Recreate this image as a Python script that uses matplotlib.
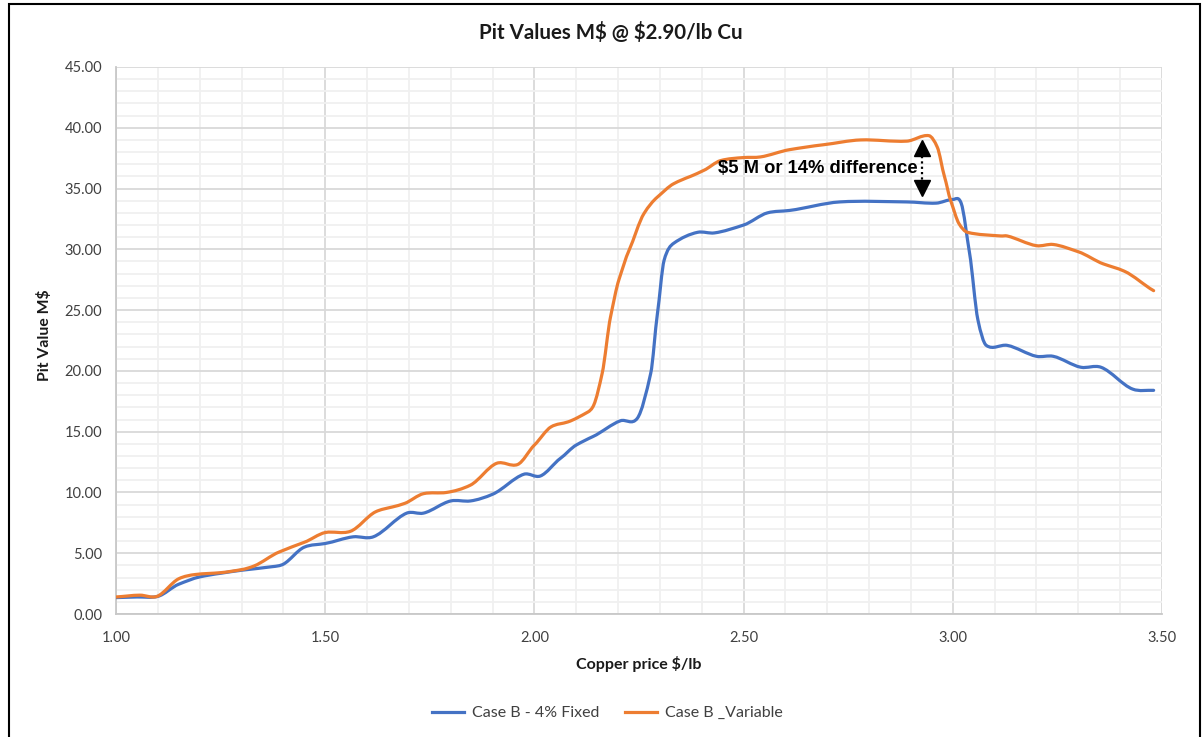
import matplotlib
matplotlib.use("Agg")
import matplotlib.pyplot as plt
from matplotlib.patches import Rectangle, PathPatch
from matplotlib.path import Path
from matplotlib.lines import Line2D
from matplotlib.ticker import MultipleLocator, FormatStrFormatter

# ---- data ----
fixed_x = [1.00, 1.05, 1.10, 1.15, 1.20, 1.25, 1.30, 1.375, 1.40, 1.45, 1.50,
           1.567, 1.615, 1.695, 1.735, 1.80, 1.847, 1.90, 1.975, 2.014, 2.062,
           2.10, 2.14, 2.206, 2.246, 2.278, 2.294, 2.31, 2.333, 2.39, 2.43,
           2.50, 2.557, 2.61, 2.73, 2.89, 2.96, 3.00, 3.02, 3.04, 3.06, 3.08,
           3.13, 3.20, 3.24, 3.306, 3.354, 3.43, 3.48]
fixed_y = [1.35, 1.4, 1.45, 2.45, 3.05, 3.35, 3.6, 3.9, 4.1, 5.5, 5.8,
           6.35, 6.35, 8.3, 8.3, 9.3, 9.3, 9.85, 11.5, 11.35, 12.8,
           13.9, 14.6, 15.9, 16.1, 19.8, 24.7, 29.1, 30.5, 31.4, 31.35,
           32.0, 33.0, 33.2, 33.9, 33.9, 33.8, 34.1, 33.8, 29.7, 24.2, 22.1,
           22.1, 21.2, 21.2, 20.3, 20.3, 18.5, 18.4]

variable_x = [1.00, 1.057, 1.098, 1.15, 1.19, 1.25, 1.30, 1.33, 1.39, 1.45, 1.50,
              1.56, 1.62, 1.66, 1.69, 1.735, 1.79, 1.847, 1.91, 1.96, 2.00,
              2.04, 2.08, 2.127, 2.142, 2.162, 2.182, 2.202, 2.226, 2.262, 2.294,
              2.333, 2.373, 2.405, 2.445, 2.50, 2.54, 2.61, 2.69, 2.78, 2.89,
              2.943, 2.963, 2.98, 2.995, 3.015, 3.035, 3.115, 3.13, 3.20, 3.24,
              3.30, 3.36, 3.41, 3.48]
variable_y = [1.4, 1.55, 1.45, 2.9, 3.25, 3.4, 3.65, 3.95, 5.1, 5.9, 6.7,
              6.8, 8.4, 8.8, 9.1, 9.9, 10.0, 10.6, 12.4, 12.3, 13.9,
              15.4, 15.8, 16.6, 17.2, 19.8, 24.45, 27.5, 29.9, 32.95, 34.3,
              35.4, 36.0, 36.5, 37.3, 37.55, 37.6, 38.2, 38.6, 39.0, 38.9,
              39.35, 38.4, 36.0, 34.0, 32.1, 31.4, 31.1, 31.1, 30.3, 30.4,
              29.8, 28.8, 28.2, 26.6]

series_names = ["Case B - 4% Fixed", "Case B _Variable"]
series_colors = ["#4472C4", "#ED7D31"]

title = r"Pit Values M\$ @ \$2.90/lb Cu"
xlabel = "Copper price $/lb"
ylabel = "Pit Value M$"
note = "$5 M or 14% difference"


def smooth_path(xs, ys, tension=0.85):
    """Bezier path through the data points (Excel-style smoothed line)."""
    n = len(xs)
    slopes = []
    for i in range(n):
        a = max(i - 1, 0)
        b = min(i + 1, n - 1)
        slopes.append(tension * (ys[b] - ys[a]) / (xs[b] - xs[a]))
    verts = [(xs[0], ys[0])]
    codes = [Path.MOVETO]
    for i in range(n - 1):
        dx = xs[i + 1] - xs[i]
        verts += [(xs[i] + dx / 3, ys[i] + slopes[i] * dx / 3),
                  (xs[i + 1] - dx / 3, ys[i + 1] - slopes[i + 1] * dx / 3),
                  (xs[i + 1], ys[i + 1])]
        codes += [Path.CURVE4] * 3
    return Path(verts, codes)


# ---- figure ----
W, H = 1204, 737
fig = plt.figure(figsize=(W / 100, H / 100), dpi=100)
font = "Lato"

ax = fig.add_axes([116 / W, 1 - 614 / H, (1162 - 116) / W, (614 - 67) / H])

for xs, ys, c in [(fixed_x, fixed_y, series_colors[0]),
                  (variable_x, variable_y, series_colors[1])]:
    ax.add_patch(PathPatch(smooth_path(xs, ys), facecolor="none", edgecolor=c,
                           lw=2.3, capstyle="round", joinstyle="round", zorder=3))

ax.set_xlim(1.0, 3.5)
ax.set_ylim(0, 45)
ax.xaxis.set_major_locator(MultipleLocator(0.5))
ax.xaxis.set_minor_locator(MultipleLocator(0.1))
ax.yaxis.set_major_locator(MultipleLocator(5))
ax.yaxis.set_minor_locator(MultipleLocator(1))
ax.xaxis.set_major_formatter(FormatStrFormatter("%.2f"))
ax.yaxis.set_major_formatter(FormatStrFormatter("%.2f"))

ax.grid(which="major", color="#D9D9D9", lw=1.3, zorder=1)
ax.grid(which="minor", color="#F0F0F0", lw=1.3, zorder=0)
ax.set_axisbelow(True)
for s in ["top", "right"]:
    ax.spines[s].set_visible(False)
for s in ["left", "bottom"]:
    ax.spines[s].set_color("#C8C8C8")
    ax.spines[s].set_linewidth(1.3)
ax.tick_params(which="both", length=0)
ax.tick_params(axis="y", pad=10, labelsize=10.5, labelcolor="#404040")
ax.tick_params(axis="x", pad=12, labelsize=10.5, labelcolor="#404040")
for lab in ax.get_xticklabels() + ax.get_yticklabels():
    lab.set_fontfamily(font)

fig.text(611 / W, 1 - 32 / H, title, ha="center", va="center",
         fontsize=14.8, fontweight="bold", family=font, color="#1a1a1a")
fig.text(639 / W, 1 - 664 / H, xlabel, ha="center", va="center",
         fontsize=11.5, fontweight="bold", family=font, color="#1a1a1a")
fig.text(44 / W, 1 - 335 / H, ylabel, ha="center", va="center", rotation=90,
         fontsize=11.3, fontweight="bold", family=font, color="#1a1a1a")

# annotation
ax.text(2.44, 36.65, note, ha="left", va="center", fontsize=13.2,
        fontweight="bold", family="Liberation Sans", color="black", zorder=5)
ax.plot([2.926, 2.926], [37.7, 35.7], color="black", lw=1.6, ls=(0, (1, 1.4)), zorder=5)
ax.plot([2.926], [38.36], marker="^", ms=11, color="black", zorder=5)
ax.plot([2.926], [35.07], marker="v", ms=11, color="black", zorder=5)

# legend
handles = [Line2D([], [], color=c, lw=2.3) for c in series_colors]
fig.legend(handles, series_names, loc="center", bbox_to_anchor=(607 / W, 1 - 713 / H),
           ncol=2, frameon=False, handlelength=2.0, handletextpad=0.5, columnspacing=1.6,
           prop={"family": font, "size": 11.5}, labelcolor="#404040")

# outer border
fig.patches.append(Rectangle((9 / W, -0.01), (1200 - 9) / W, 1 - 4 / H + 0.01,
                             transform=fig.transFigure, fill=False,
                             edgecolor="black", lw=1.5))

fig.savefig("out.png", dpi=100, facecolor="white")
